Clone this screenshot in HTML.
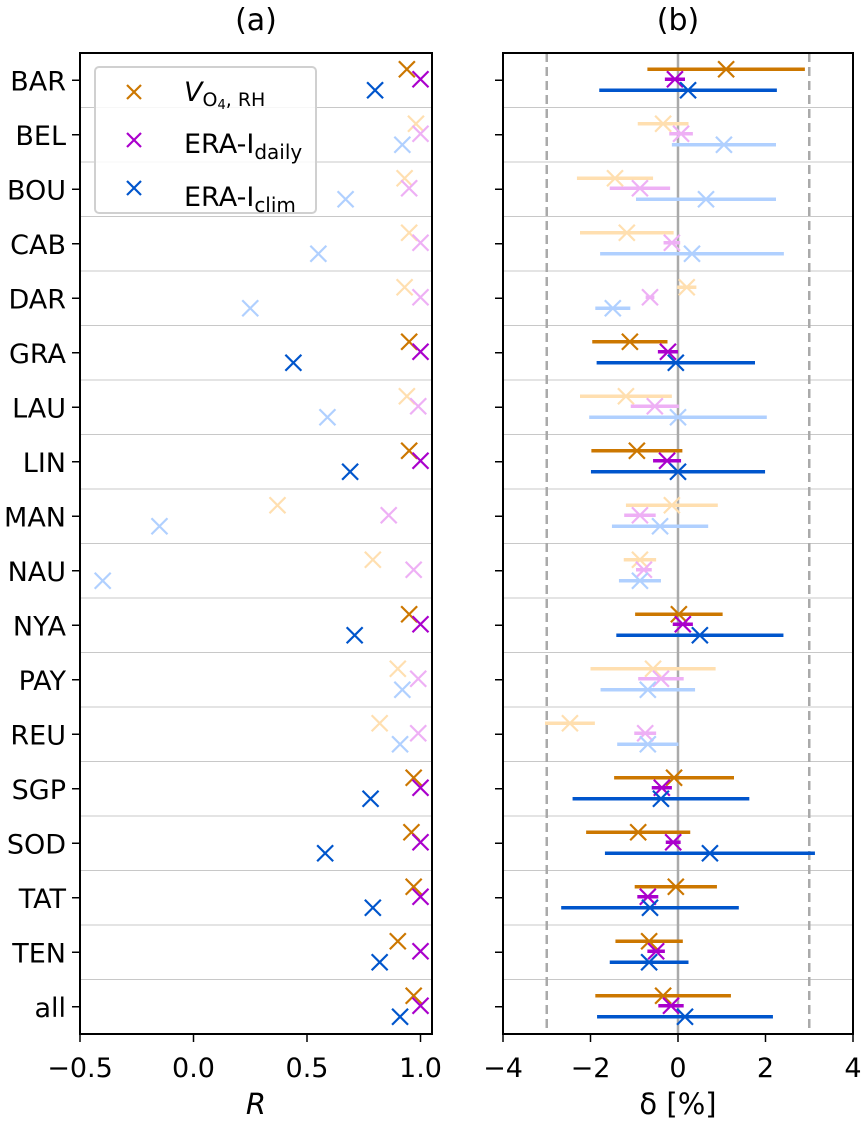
<!DOCTYPE html>
<html><head><meta charset="utf-8"><style>
html,body{margin:0;padding:0;background:#fff;}
svg{display:block;font-family:"DejaVu Sans","Liberation Sans",sans-serif;}
</style></head><body>
<svg id="chart" width="864" height="1125" xmlns="http://www.w3.org/2000/svg"></svg>
<script>
const stations = ["BAR","BEL","BOU","CAB","DAR","GRA","LAU","LIN","MAN","NAU","NYA","PAY","REU","SGP","SOD","TAT","TEN","all"];
const faded = [0,1,1,1,1,0,1,0,1,1,0,1,1,0,0,0,0,0];
const rO4 = [0.94,0.98,0.93,0.95,0.93,0.95,0.94,0.95,0.37,0.79,0.95,0.90,0.82,0.97,0.96,0.97,0.90,0.97];
const rDaily = [1.0,1.0,0.95,1.0,1.0,1.0,0.99,1.0,0.86,0.97,1.0,0.99,0.99,1.0,1.0,1.0,1.0,1.0];
const rClim = [0.80,0.92,0.67,0.55,0.25,0.44,0.59,0.69,-0.15,-0.40,0.71,0.92,0.91,0.78,0.58,0.79,0.82,0.91];
const dO4 = [1.1,-0.34,-1.44,-1.17,0.2,-1.1,-1.19,-0.94,-0.14,-0.87,0.02,-0.57,-2.47,-0.09,-0.91,-0.05,-0.66,-0.34];
const eO4 = [1.8,0.58,0.87,1.07,0.22,0.86,1.05,1.04,1.05,0.37,1.0,1.43,0.57,1.37,1.19,0.94,0.77,1.55];
const dDaily = [-0.07,0.07,-0.87,-0.14,-0.64,-0.23,-0.53,-0.25,-0.87,-0.78,0.11,-0.39,-0.75,-0.37,-0.11,-0.69,-0.5,-0.16];
const eDaily = [0.23,0.27,0.69,0.19,0.1,0.23,0.55,0.32,0.36,0.18,0.23,0.52,0.25,0.23,0.17,0.24,0.2,0.29];
const dClim = [0.23,1.05,0.64,0.32,-1.49,-0.05,0.0,0.0,-0.41,-0.87,0.5,-0.69,-0.69,-0.39,0.73,-0.64,-0.66,0.16];
const eClim = [2.03,1.19,1.6,2.1,0.4,1.81,2.03,1.99,1.1,0.48,1.91,1.08,0.7,2.02,2.4,2.03,0.9,2.01];
const ticksA = [-0.5,0.0,0.5,1.0];
const tickLabelsA = ["\u22120.5","0.0","0.5","1.0"];
const ticksB = [-4,-2,0,2,4];
const tickLabelsB = ["\u22124","\u22122","0","2","4"];

const NS="http://www.w3.org/2000/svg";
const svg=document.getElementById('chart');
function el(tag,attrs,parent){const e=document.createElementNS(NS,tag);for(const k in attrs)e.setAttribute(k,attrs[k]);(parent||svg).appendChild(e);return e;}
const TOP=53,BOT=1034,ROWH=(BOT-TOP)/stations.length;
const rowY=i=>TOP+ROWH*(i+0.5);
const A={l:80,r:432},B={l:503,r:853};
const xA=v=>A.l+(v+0.5)*227;
const xB=v=>B.l+(v+4)*(B.r-B.l)/8;
const COL=[["#cc7700","#ffdfb0"],["#aa00cc","#eeb0f5"],["#0055cc","#b0d0ff"]];
const OFF=[-11,-1,10];

function marker(x,y,c,name){
  const g=el('g',{stroke:c,'stroke-width':2.2});
  
  
  el('line',{x1:x-8,y1:y-8,x2:x+8,y2:y+8},g);
  el('line',{x1:x-8,y1:y+8,x2:x+8,y2:y-8},g);
}
[A,B].forEach((ax,k)=>{
  for(let i=1;i<stations.length;i++){
    const y=TOP+ROWH*i;
    const l=el('line',{x1:ax.l,x2:ax.r,y1:y,y2:y,stroke:'#c8c8c8','stroke-width':1});
    
    
  }
});
let z=el('line',{x1:xB(0),x2:xB(0),y1:TOP,y2:BOT,stroke:'#aaaaaa','stroke-width':2.5});

[-3,3].forEach(v=>{const d=el('line',{x1:xB(v),x2:xB(v),y1:TOP,y2:BOT,stroke:'#aaaaaa','stroke-width':2.5,'stroke-dasharray':'9,5'});
});

const rs=[rO4,rDaily,rClim];
stations.forEach((s,i)=>{
  const f=faded[i];
  for(let k=0;k<3;k++){
    marker(xA(rs[k][i]),rowY(i)+OFF[k],COL[k][f],'r-marker-'+s.toLowerCase());
  }
});
const ds=[dO4,dDaily,dClim],es=[eO4,eDaily,eClim];
stations.forEach((s,i)=>{
  const f=faded[i];
  for(let k=0;k<3;k++){
    const y=rowY(i)+OFF[k],c=COL[k][f];
    const ln=el('line',{x1:xB(ds[k][i]-es[k][i]),x2:xB(ds[k][i]+es[k][i]),y1:y,y2:y,stroke:c,'stroke-width':3.5});
    
    
    marker(xB(ds[k][i]),y,c,'delta-marker-'+s.toLowerCase());
  }
});
[A,B].forEach((ax,k)=>{
  const r=el('rect',{x:ax.l,y:TOP,width:ax.r-ax.l,height:BOT-TOP,fill:'none',stroke:'#000','stroke-width':2});
  
  
  stations.forEach((s,i)=>{
    el('line',{x1:ax.l-8,x2:ax.l,y1:rowY(i),y2:rowY(i),stroke:'#000','stroke-width':1.5});
    if(k===0){
      const t=el('text',{x:ax.l-14,y:rowY(i)+10,'text-anchor':'end','font-size':27});
      t.textContent=s;
      
      
    }
  });
});
ticksA.forEach((v,i)=>{
  el('line',{x1:xA(v),x2:xA(v),y1:BOT,y2:BOT+8,stroke:'#000','stroke-width':1.5});
  const t=el('text',{x:xA(v),y:BOT+43,'text-anchor':'middle','font-size':27});
  t.textContent=tickLabelsA[i];
  
  
});
ticksB.forEach((v,i)=>{
  el('line',{x1:xB(v),x2:xB(v),y1:BOT,y2:BOT+8,stroke:'#000','stroke-width':1.5});
  const t=el('text',{x:xB(v),y:BOT+43,'text-anchor':'middle','font-size':27});
  t.textContent=tickLabelsB[i];
  
  
});
</script>
<svg style="position:absolute;left:0;top:0" width="864" height="1125" xmlns="http://www.w3.org/2000/svg" font-family="DejaVu Sans, Liberation Sans, sans-serif">
  <text x="256" y="30" text-anchor="middle" font-size="30">(a)</text>
  <text x="678" y="30" text-anchor="middle" font-size="30">(b)</text>
  <text x="256" y="1114" text-anchor="middle" font-size="29" font-style="italic">R</text>
  <text x="678" y="1114" text-anchor="middle" font-size="29">δ [%]</text>
  <g>
    <rect x="95" y="67" width="221" height="146" rx="4" fill="#fff" fill-opacity="0.85" stroke="#d0d0d0" stroke-width="2"/>
    <g stroke="#cc7700" stroke-width="2.2"><line x1="127" y1="85" x2="141" y2="99"/><line x1="127" y1="99" x2="141" y2="85"/></g>
    <g stroke="#aa00cc" stroke-width="2.2"><line x1="127" y1="133" x2="141" y2="147"/><line x1="127" y1="147" x2="141" y2="133"/></g>
    <g stroke="#0055cc" stroke-width="2.2"><line x1="127" y1="181" x2="141" y2="195"/><line x1="127" y1="195" x2="141" y2="181"/></g>
    <text x="184" y="101" font-size="27"><tspan font-style="italic">V</tspan><tspan font-size="19" dy="5">O</tspan><tspan font-size="13" dy="3">4</tspan><tspan font-size="19" dy="-3">, RH</tspan></text>
    <text x="184" y="153" font-size="27">ERA-I<tspan font-size="20" dy="6">daily</tspan></text>
    <text x="184" y="206" font-size="27">ERA-I<tspan font-size="20" dy="6">clim</tspan></text>
  </g>
</svg>
</body></html>
